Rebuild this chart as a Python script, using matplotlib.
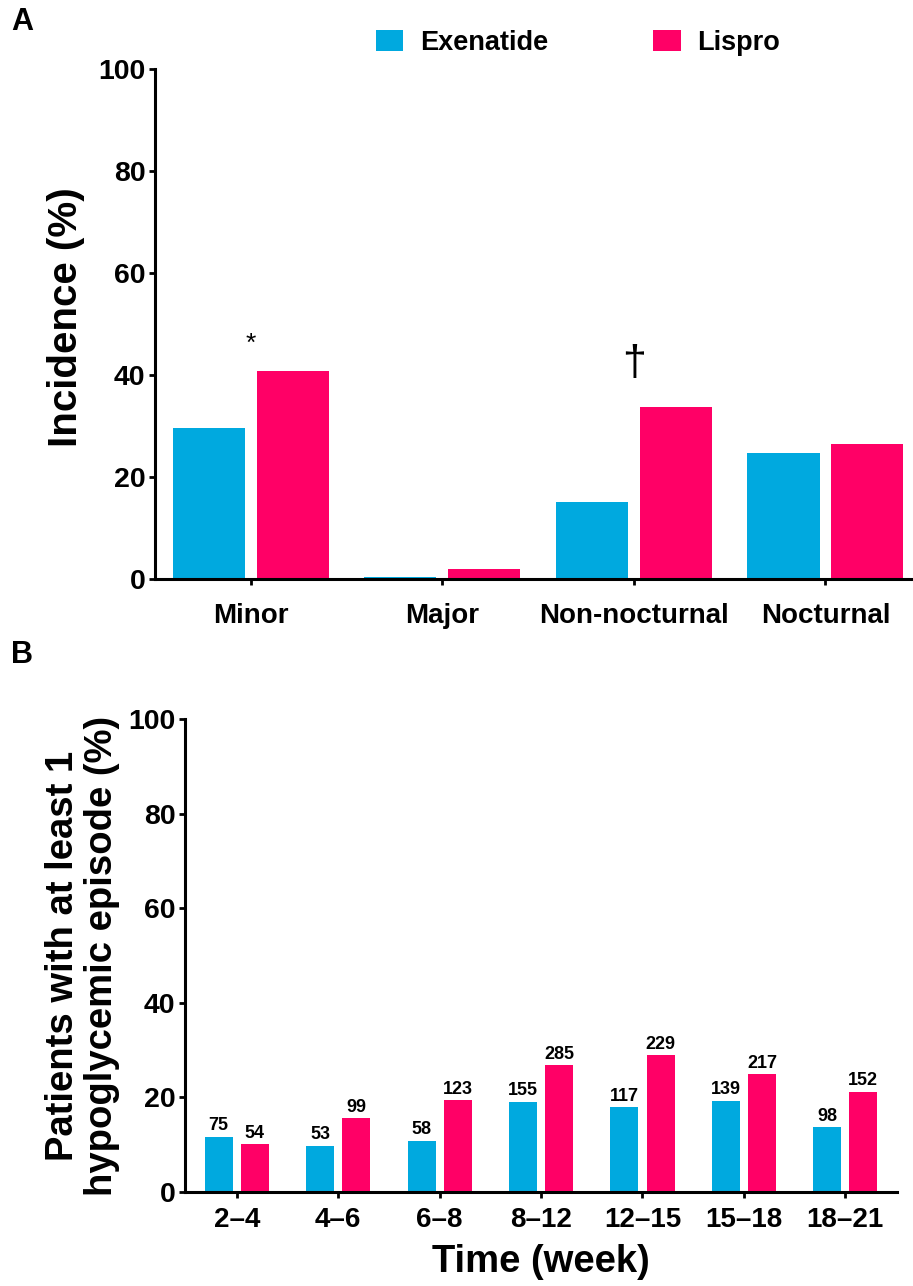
import numpy as np
import matplotlib.pyplot as plt

plt.rcParams['font.family'] = ['Liberation Sans', 'DejaVu Sans']
plt.rcParams['font.weight'] = 'bold'
plt.rcParams['axes.labelweight'] = 'bold'

# Panel A data
categories = ['Minor', 'Major', 'Non-nocturnal', 'Nocturnal']
exenatide_a = [29.5, 0.4, 15.1, 24.7]
lispro_a = [40.8, 1.9, 33.8, 26.5]
markers_a = ['*', '', '\u2020', '']

# Panel B data
weeks = ['2\u20134', '4\u20136', '6\u20138', '8\u201312', '12\u201315', '15\u201318', '18\u201321']
exenatide_b = [11.6, 9.7, 10.9, 19.1, 17.9, 19.2, 13.7]
lispro_b = [10.1, 15.6, 19.4, 26.8, 28.9, 24.9, 21.2]
n_exenatide = [75, 53, 58, 155, 117, 139, 98]
n_lispro = [54, 99, 123, 285, 229, 217, 152]

c_exe = '#00A9DF'
c_lis = '#FF0066'


def style_axis(ax):
    for s in ['top', 'right']:
        ax.spines[s].set_visible(False)
    for s in ['left', 'bottom']:
        ax.spines[s].set_linewidth(2.2)
    ax.tick_params(axis='both', width=2, length=4.5, pad=2.5)
    ax.tick_params(axis='y', labelsize=20.5)
    ax.set_ylim(0, 100)
    ax.set_yticks([0, 20, 40, 60, 80, 100])


def main():
    fig = plt.figure(figsize=(9.13, 12.86), dpi=100)

    # ----- Panel A -----
    ax1 = fig.add_axes([0.1698, 0.550, 0.8302, 0.396])
    x = np.arange(len(categories))
    ax1.bar(x - 0.219, exenatide_a, width=0.376, color=c_exe, label='Exenatide')
    ax1.bar(x + 0.219, lispro_a, width=0.376, color=c_lis, label='Lispro')
    style_axis(ax1)
    ax1.set_xlim(-0.50, 3.457)
    ax1.set_xticks(x)
    ax1.set_xticklabels(categories, fontsize=20)
    ax1.tick_params(axis='x', pad=13)
    ax1.set_ylabel('Incidence (%)', fontsize=29, labelpad=8)
    ax1.yaxis.set_label_coords(-0.092, 0.513)
    for i, m in enumerate(markers_a):
        if m == '*':
            ax1.text(x[i], 46.2, m, ha='center', va='center', fontsize=19, fontweight='normal')
        elif m:
            ax1.text(x[i], 42.2, m, ha='center', va='center', fontsize=31, fontweight='normal')

    fig.legend(handles=ax1.patches[:1] + ax1.patches[4:5], labels=['Exenatide', 'Lispro'],
               loc='center', bbox_to_anchor=(0.633, 0.9665), ncol=2, frameon=False,
               fontsize=19.5, handlelength=1.0, handleheight=0.8, columnspacing=3.9,
               handletextpad=0.6)

    fig.text(0.012, 0.983, 'A', fontsize=22, fontweight='bold', va='center')
    fig.text(0.012, 0.491, 'B', fontsize=22, fontweight='bold', va='center')

    # ----- Panel B -----
    ax2 = fig.add_axes([0.2026, 0.073, 0.780, 0.368])
    xb = np.arange(len(weeks))
    b1 = ax2.bar(xb - 0.178, exenatide_b, width=0.276, color=c_exe)
    b2 = ax2.bar(xb + 0.178, lispro_b, width=0.276, color=c_lis)
    style_axis(ax2)
    ax2.set_xlim(-0.511, 6.511)
    ax2.set_xticks(xb)
    ax2.set_xticklabels(weeks, fontsize=20)
    ax2.tick_params(axis='x', pad=6)
    ax2.bar_label(b1, labels=[str(v) for v in n_exenatide], padding=2, fontsize=13)
    ax2.bar_label(b2, labels=[str(v) for v in n_lispro], padding=2, fontsize=13)
    ax2.set_ylabel('Patients with at least 1\nhypoglycemic episode (%)', fontsize=27.5,
                   labelpad=6, linespacing=1.1)
    ax2.set_xlabel('Time (week)', fontsize=27.5, labelpad=8)

    fig.savefig('out.png', dpi=100)


if __name__ == '__main__':
    main()
